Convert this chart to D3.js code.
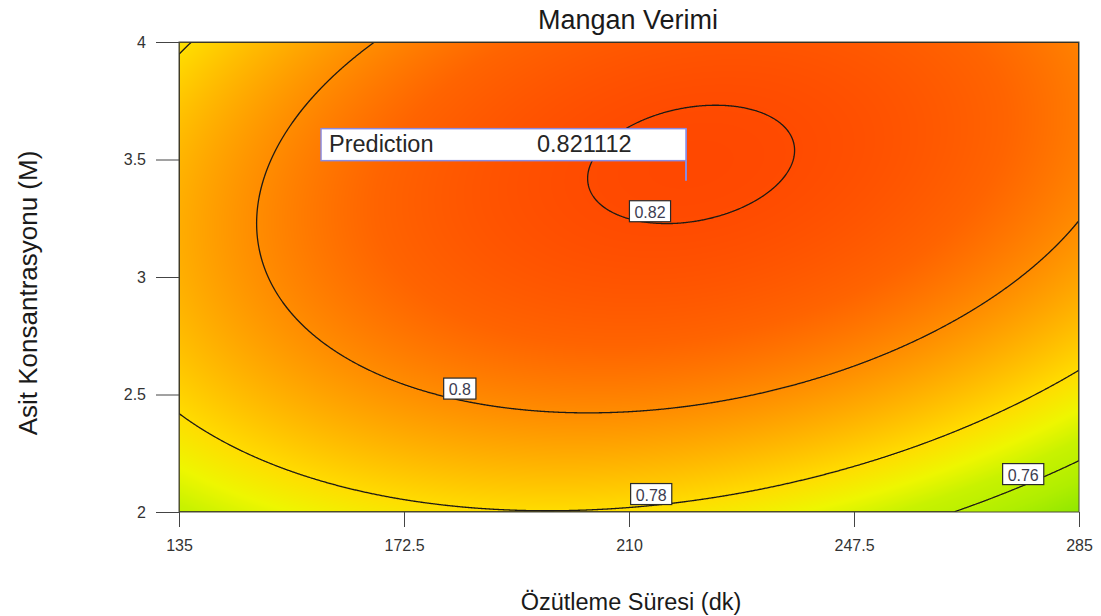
<!DOCTYPE html>
<html lang="tr">
<head>
<meta charset="UTF-8">
<title>Mangan Verimi</title>
<script src="https://d3js.org/d3.v7.min.js"></script>
<style>
    body { margin: 0; background: #fff; }
    svg { display: block; font-family: "Liberation Sans", Arial, sans-serif; }
</style>
</head>
<body>
<script>
// factors: time 135..285 dk (coded A), acid 2..4 M (coded B)
const xTicks = [135, 172.5, 210, 247.5, 285];
const yTicks = [2, 2.5, 3, 3.5, 4];
const xCenter = 210, xHalf = 75;
const yCenter = 3, yHalf = 1;

// quadratic model in coded factors
const modelTerms = ["Intercept", "A", "B", "AB", "A^2", "B^2"];
const modelCoefs = [0.81682, 0.00165, 0.01782, 0.01044, -0.0241, -0.0201];

const contourLevels = [0.76, 0.78, 0.8, 0.82];
const labelTimes = [275.7, 213.7, 181.8, 213.5];   // where each level's label sits on the x axis

const predictionPoint = [219.5, 3.41];
const predictionText = "0.821112";

// colour ramp of the response
const rampValues = [0.745, 0.755, 0.765, 0.772, 0.78, 0.79, 0.80, 0.81, 0.822];
const rampColors = ["#8ce600", "#b0ee00", "#c8f200", "#eef600", "#ffdc00", "#ffb400", "#ff8c00", "#ff6400", "#ff4600"];

const W = 1101, H = 616;
const pLeft = 179, pRight = 1079, pTop = 42, pBottom = 512;

const x = d3.scaleLinear().domain([135, 285]).range([pLeft, pRight]);
const y = d3.scaleLinear().domain([2, 4]).range([pBottom, pTop]);
const color = d3.scaleLinear().domain(rampValues).range(rampColors).clamp(true);

function model(t, c) {
    const A = (t - xCenter) / xHalf, B = (c - yCenter) / yHalf;
    const k = modelCoefs;
    return k[0] + k[1] * A + k[2] * B + k[3] * A * B + k[4] * A * A + k[5] * B * B;
}

// lower root in B of the model for a given level and time
function levelAt(level, t) {
    const A = (t - xCenter) / xHalf, k = modelCoefs;
    const qa = k[5], qb = k[2] + k[3] * A, qc = k[0] + k[1] * A + k[4] * A * A - level;
    const disc = qb * qb - 4 * qa * qc;
    if (disc < 0) return null;
    const r1 = (-qb + Math.sqrt(disc)) / (2 * qa), r2 = (-qb - Math.sqrt(disc)) / (2 * qa);
    return yCenter + yHalf * Math.min(r1, r2);
}

const svg = d3.select("body").append("svg").attr("width", W).attr("height", H);

// grid of model values, one per plot pixel
const gw = pRight - pLeft, gh = pBottom - pTop;
const grid = new Float64Array(gw * gh);
for (let j = 0; j < gh; j++) {
    for (let i = 0; i < gw; i++) {
        grid[j * gw + i] = model(x.invert(pLeft + i + 0.5), y.invert(pTop + j + 0.5));
    }
}

// shaded surface
const canvas = document.createElement("canvas");
canvas.width = gw; canvas.height = gh;
const ctx = canvas.getContext("2d");
const img = ctx.createImageData(gw, gh);
for (let p = 0; p < grid.length; p++) {
    const c = d3.rgb(color(grid[p]));
    img.data[p * 4] = c.r; img.data[p * 4 + 1] = c.g; img.data[p * 4 + 2] = c.b; img.data[p * 4 + 3] = 255;
}
ctx.putImageData(img, 0, 0);

svg.append("clipPath").attr("id", "plotClip")
    .append("rect").attr("x", pLeft).attr("y", pTop).attr("width", gw).attr("height", gh);

svg.append("image")
    .attr("x", pLeft).attr("y", pTop)
    .attr("width", gw).attr("height", gh)
    .attr("preserveAspectRatio", "none")
    .attr("href", canvas.toDataURL());

// contour lines
const contours = d3.contours().size([gw, gh]).thresholds(contourLevels)(grid);
svg.append("g")
    .attr("clip-path", "url(#plotClip)")
    .append("g")
    .attr("transform", `translate(${pLeft},${pTop})`)
    .selectAll("path")
    .data(contours)
    .enter()
    .append("path")
    .attr("d", d3.geoPath())
    .attr("fill", "none")
    .attr("stroke", "#1e1a14")
    .attr("stroke-width", 1.3);

// frame
svg.append("rect")
    .attr("x", pLeft).attr("y", pTop).attr("width", gw).attr("height", gh)
    .attr("fill", "none").attr("stroke", "#4a4a3a").attr("stroke-width", 1);

// contour labels
contourLevels.forEach((lv, i) => {
    const t = labelTimes[i];
    const c = levelAt(lv, t);
    if (c === null) return;
    const px = x(t), py = Math.min(y(c), pBottom - 2);
    const g = svg.append("g");
    const txt = g.append("text")
        .attr("x", px).attr("y", py - 5)
        .attr("text-anchor", "middle")
        .style("font-size", "16px")
        .style("fill", "#3c3c50")
        .text(String(lv));
    const bw = txt.node().getComputedTextLength() + 10;
    g.insert("rect", "text")
        .attr("x", px - bw / 2).attr("y", py - 22)
        .attr("width", bw).attr("height", 21)
        .attr("fill", "#fff").attr("stroke", "#2a2a2a").attr("stroke-width", 1.2);
});

// prediction flag
const fx = x(predictionPoint[0]), fy = y(predictionPoint[1]);
svg.append("line")
    .attr("x1", fx).attr("x2", fx).attr("y1", fy - 52).attr("y2", fy)
    .attr("stroke", "#8a8ae0").attr("stroke-width", 2);
svg.append("rect")
    .attr("x", fx - 365).attr("y", fy - 52)
    .attr("width", 365).attr("height", 32)
    .attr("fill", "#fff").attr("stroke", "#8a8ae0").attr("stroke-width", 1.5);
svg.append("text")
    .attr("x", fx - 357).attr("y", fy - 29)
    .style("font-size", "23.5px").style("fill", "#262626")
    .text("Prediction");
svg.append("text")
    .attr("x", fx - 149).attr("y", fy - 29)
    .style("font-size", "23.5px").style("fill", "#262626")
    .text(predictionText);

// axes
const xAxis = d3.axisBottom(x).tickValues(xTicks).tickSize(15).tickSizeOuter(0).tickPadding(13)
    .tickFormat(d => d);
const yAxis = d3.axisLeft(y).tickValues(yTicks).tickSize(23).tickSizeOuter(0).tickPadding(10)
    .tickFormat(d => d);

const gx = svg.append("g").attr("transform", `translate(0,${pBottom})`).call(xAxis);
const gy = svg.append("g").attr("transform", `translate(${pLeft},0)`).call(yAxis);
[gx, gy].forEach(g => {
    g.select(".domain").remove();
    g.selectAll(".tick line").attr("stroke", "#444");
    g.selectAll(".tick text")
        .style("font-family", "'Liberation Sans', Arial, sans-serif")
        .style("fill", "#333")
        .style("font-size", "16px");
});

// titles
svg.append("text")
    .attr("x", 628).attr("y", 29)
    .attr("text-anchor", "middle")
    .style("font-size", "27px").style("fill", "#1a1a1a")
    .text("Mangan Verimi");
svg.append("text")
    .attr("x", 631).attr("y", 610)
    .attr("text-anchor", "middle")
    .style("font-size", "23.5px").style("fill", "#1a1a1a")
    .text("Özütleme Süresi (dk)");
svg.append("text")
    .attr("transform", "translate(37,293) rotate(-90)")
    .attr("text-anchor", "middle")
    .style("font-size", "26px").style("fill", "#1a1a1a")
    .text("Asit Konsantrasyonu (M)");
</script>
</body>
</html>
